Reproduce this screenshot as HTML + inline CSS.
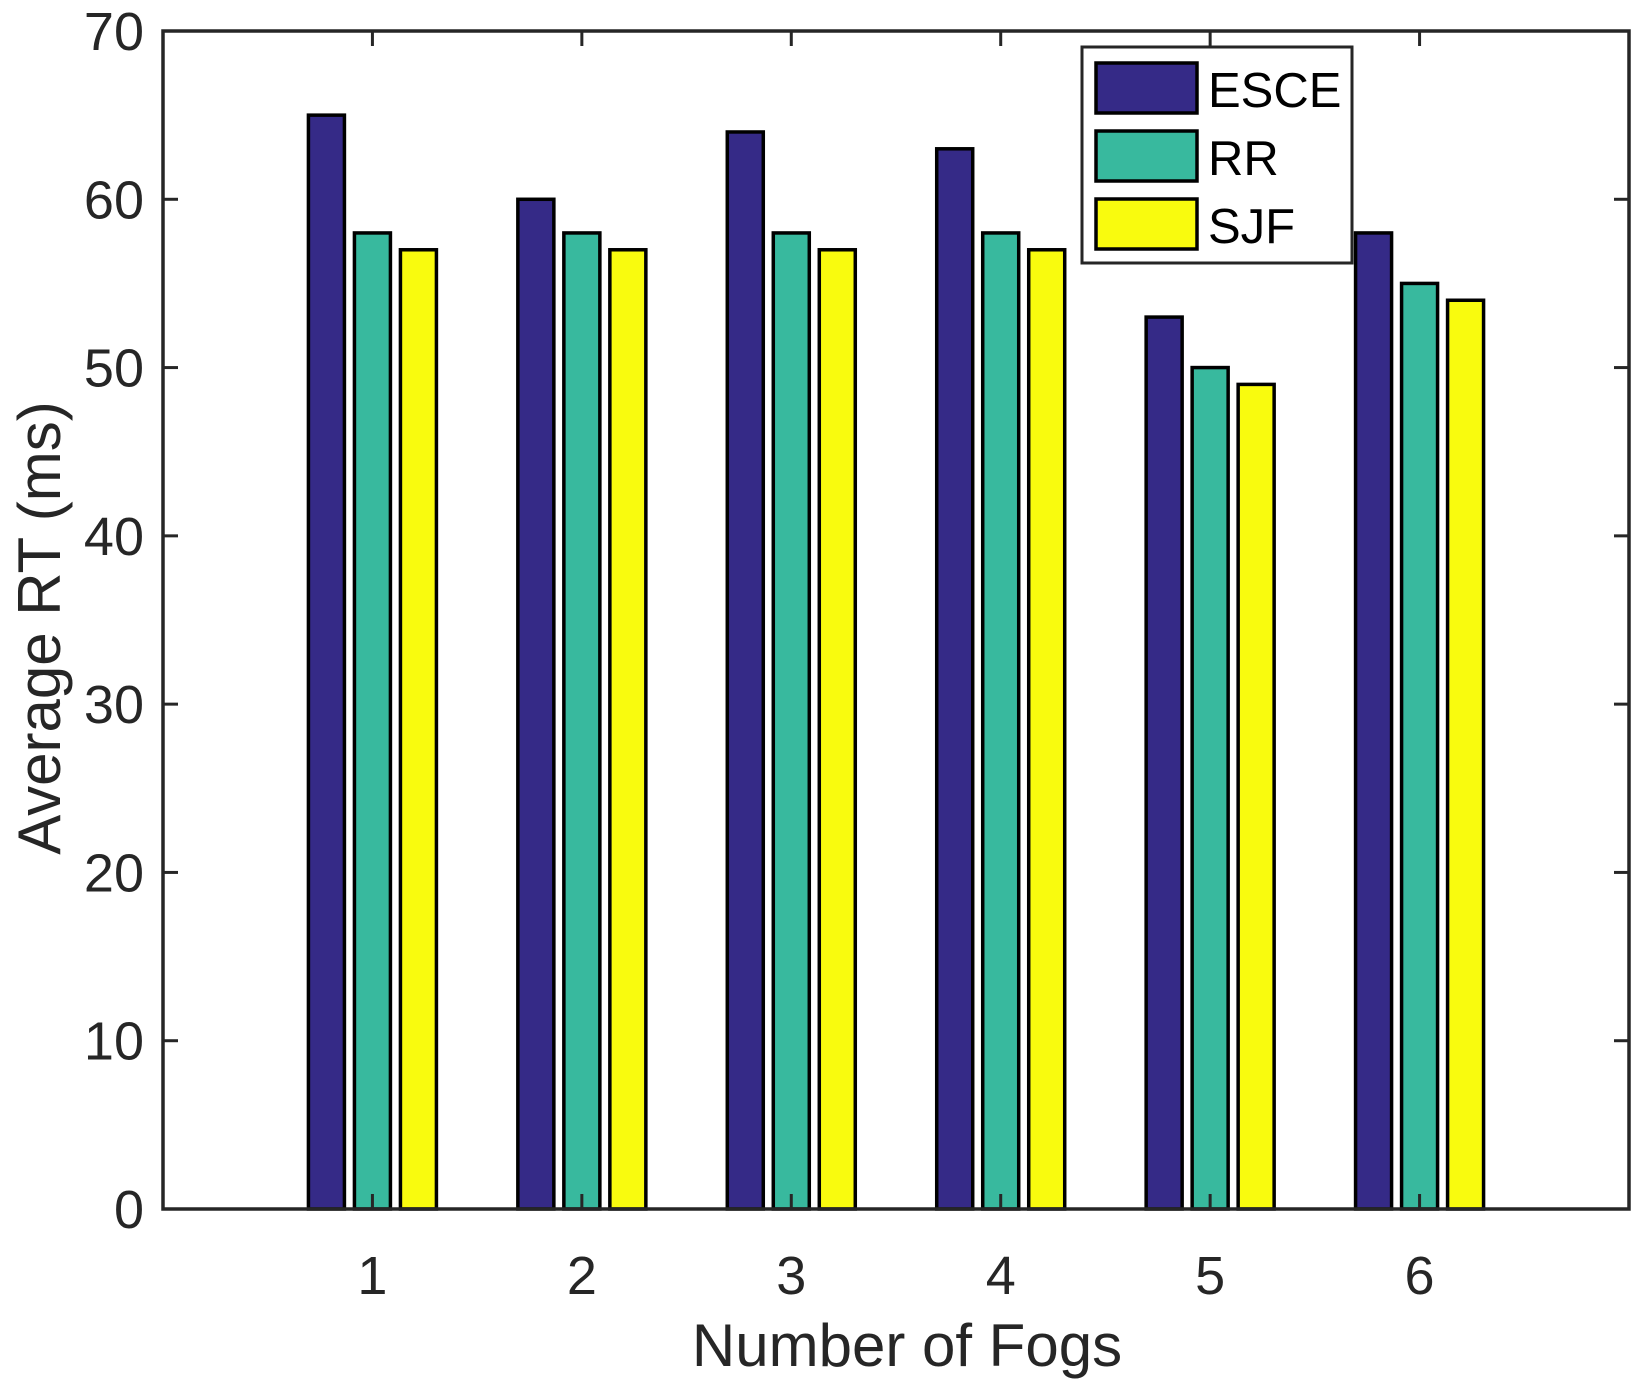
<!DOCTYPE html>
<html><head><style>body{margin:0;background:#fff}svg{display:block}</style></head><body>
<svg width="1648" height="1386" xmlns="http://www.w3.org/2000/svg" font-family="Liberation Sans, Arial, sans-serif">
<rect width="1648" height="1386" fill="#fff"/>
<g id="bars" stroke="#000" stroke-width="3.5"></g>
<g stroke="#262626" stroke-width="3.5" fill="none">
<rect x="163" y="31" width="1466" height="1178"/>
</g>
<g id="ticks" stroke="#262626" stroke-width="3"></g>
<g id="lbl" fill="#262626" font-size="54"></g>
<text x="907" y="1366" font-size="60" fill="#262626" text-anchor="middle">Number of Fogs</text>
<text transform="translate(60,628) rotate(-90)" font-size="60" fill="#262626" text-anchor="middle">Average RT (ms)</text>
<rect x="1082" y="47" width="270" height="216" fill="#fff" stroke="#262626" stroke-width="3"/>
<rect x="1096" y="63" width="101" height="50" fill="#352a87" stroke="#000" stroke-width="3.5"/>
<rect x="1096" y="131" width="101" height="50" fill="#38b99e" stroke="#000" stroke-width="3.5"/>
<rect x="1096" y="199" width="101" height="50" fill="#f9fb0e" stroke="#000" stroke-width="3.5"/>
<g font-size="49" fill="#000"><text x="1208" y="107">ESCE</text><text x="1208" y="175">RR</text><text x="1208" y="243">SJF</text></g>
</svg>
<script>
var NS="http://www.w3.org/2000/svg";
function el(p,t,a,txt){var e=document.createElementNS(NS,t);for(var k in a)e.setAttribute(k,a[k]);if(txt)e.textContent=txt;p.appendChild(e);}
var d=[[65,58,57],[60,58,57],[64,58,57],[63,58,57],[53,50,49],[58,55,54]];
var c=["#352a87","#38b99e","#f9fb0e"],off=[-46,0,46];
var Y=function(v){return 1209-v*1178/70;},X=function(i){return 163+i*1466/7;};
var b=document.getElementById("bars"),t=document.getElementById("ticks"),l=document.getElementById("lbl");
d.forEach(function(g,i){g.forEach(function(v,j){var cx=X(i+1)+off[j];el(b,"rect",{x:cx-18,y:Y(v),width:36,height:1209-Y(v),fill:c[j]});});});
for(var v=0;v<=70;v+=10){var y=Y(v);
el(t,"line",{x1:163,y1:y,x2:178,y2:y});el(t,"line",{x1:1629,y1:y,x2:1614,y2:y});
el(l,"text",{x:144,y:y+19,"text-anchor":"end"},""+v);}
for(var i=1;i<=6;i++){var x=X(i);
el(t,"line",{x1:x,y1:1209,x2:x,y2:1194});el(t,"line",{x1:x,y1:31,x2:x,y2:46});
el(l,"text",{x:x,y:1294,"text-anchor":"middle"},""+i);}
</script>
</body></html>
